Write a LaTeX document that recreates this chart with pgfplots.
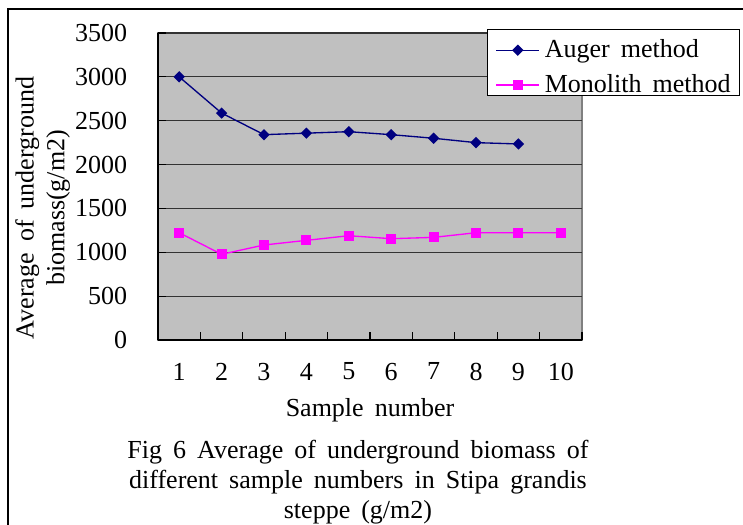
\documentclass[border=0pt]{standalone}
\usepackage{fontspec}
\setmainfont{Liberation Serif}[WordSpace=1.7]
\usepackage{pgfplots}
\pgfplotsset{compat=1.18}

\newcommand\chartfont{\fontsize{19.5pt}{22.5pt}\selectfont}
\definecolor{plotbg}{RGB}{192,192,192}
\definecolor{auger}{RGB}{0,0,128}
\definecolor{monolith}{RGB}{255,0,255}

\begin{document}
\begin{tikzpicture}[font=\chartfont]
\useasboundingbox (0,0) rectangle (557.25pt,393.75pt);
% chart frame
\draw[line width=1.1pt] (6pt,-2pt) -- (6pt,387pt) -- (560pt,387pt);

\begin{axis}[
  at={(118.5pt,138.75pt)}, anchor=south west,
  scale only axis, width=318pt, height=230.25pt,
  xmin=0.5, xmax=10.5, ymin=0, ymax=3500,
  xtick={1,...,10}, minor xtick={0.5,1.5,...,10.5},
  ytick={0,500,...,3500},
  axis x line*=bottom, axis y line*=left,
  axis line style={-, black, line width=1pt},
  axis background/.style={fill=plotbg, draw=gray, line width=0.8pt},
  ymajorgrids, major grid style={black!80, line width=0.8pt},
  tick align=inside,
  major x tick style={draw=none},
  minor tick length=6pt, major tick length=6pt,
  tick style={black, line width=0.8pt},
  /pgf/number format/assume math mode=true,
  /pgf/number format/1000 sep={},
  tick label style={font=\chartfont, inner sep=0pt},
  xticklabel style={anchor=north, yshift=-17pt},
  yticklabel style={anchor=east, xshift=-23pt},
  xlabel={Sample number},
  xlabel style={at={(axis description cs:0.5,0)}, anchor=north, yshift=-43.5pt, inner sep=0pt, font=\chartfont},
  ylabel={Average of underground\\biomass(g/m2)},
  ylabel style={at={(axis description cs:-0.272,0.43)}, anchor=center, align=center,
                font=\fontsize{19.5pt}{23pt}\selectfont},
  legend cell align=left,
  legend style={at={(rel axis cs:0.775,1.012)}, anchor=north west,
                draw=black, line width=0.8pt, fill=white, font=\chartfont,
                inner xsep=6.5pt, inner ysep=2.5pt, row sep=7.5pt, column sep=3.75pt,
                nodes={inner sep=0pt, text height=18.5pt, text depth=0pt}},
  legend image code/.code={\draw[mark repeat=2,mark phase=2]
      plot coordinates {(0pt,-3.5pt) (16pt,-3.5pt) (32pt,-3.5pt)};},
]
\addplot[auger, line width=1pt, mark=square*, mark size=2.5pt,
         mark options={rotate=45, solid, fill=auger}]
  coordinates {(1,3000) (2,2587) (3,2341) (4,2358) (5,2375)
               (6,2341) (7,2300) (8,2250) (9,2235)};
\addlegendentry{Auger method}
\addplot[monolith, line width=1pt, mark=square*, mark size=3.3pt,
         mark options={solid, fill=monolith}]
  coordinates {(1,1223) (2,977) (3,1083) (4,1136) (5,1189)
               (6,1155) (7,1170) (8,1223) (9,1223) (10,1223)};
\addlegendentry{Monolith method}
\end{axis}

\node[align=center, font=\chartfont] at (268.5pt,32.5pt)
  {Fig 6 Average of underground biomass of\\
   different sample numbers in Stipa grandis\\
   steppe (g/m2)};
\end{tikzpicture}
\end{document}
